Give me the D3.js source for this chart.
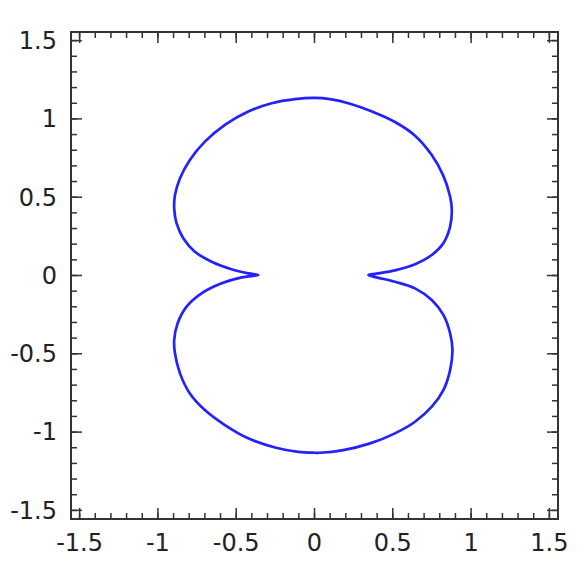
<!DOCTYPE html>
<html>
<head>
<meta charset="utf-8">
<script src="https://cdn.jsdelivr.net/npm/d3@7"></script>
<style>
  body { margin: 0; background: #fff; }
  .tick-label { font-family: 'DejaVu Sans', sans-serif; font-size: 24px; fill: #222; }
</style>
</head>
<body>
<div id="chart"></div>
<script>
// Curve points, going clockwise from the top
const curveX = [
  0, 0.099, 0.227, 0.355, 0.514, 0.642, 0.749, 0.823, 0.866, 0.877, 0.866, 0.823, 0.749, 0.642, 0.514, 0.397, 0.344,
  0.397, 0.514, 0.642, 0.749, 0.823, 0.866, 0.881, 0.866, 0.823, 0.749, 0.642, 0.514, 0.355, 0.184, 0.035, 0,
  -0.104, -0.252, -0.423, -0.572, -0.700, -0.796, -0.859, -0.891, -0.896, -0.874, -0.817, -0.721, -0.593, -0.465, -0.359,
  -0.423, -0.530, -0.657, -0.764, -0.838, -0.881, -0.896, -0.891, -0.859, -0.796, -0.700, -0.572, -0.423, -0.273, -0.125
];
const curveY = [
  1.134, 1.126, 1.097, 1.052, 0.980, 0.893, 0.769, 0.636, 0.504, 0.419, 0.312, 0.206, 0.131, 0.072, 0.033, 0.012, 0.003,
  -0.012, -0.040, -0.082, -0.157, -0.252, -0.369, -0.476, -0.604, -0.732, -0.838, -0.934, -1.008, -1.072, -1.115, -1.132, -1.132,
  -1.126, -1.098, -1.040, -0.955, -0.859, -0.753, -0.625, -0.497, -0.412, -0.305, -0.199, -0.114, -0.050, -0.012, 0.003,
  0.014, 0.040, 0.088, 0.152, 0.238, 0.334, 0.429, 0.514, 0.621, 0.738, 0.855, 0.962, 1.047, 1.100, 1.126
];
const majorTicks = [-1.5, -1, -0.5, 0, 0.5, 1, 1.5];
const tickLabels = ['-1.5', '-1', '-0.5', '0', '0.5', '1', '1.5'];
const minorTicks = d3.range(-15, 16).map((d) => d / 10);

const width = 588, height = 572;
const plotLeft = 71, plotRight = 558, plotTop = 32, plotBottom = 519;

const svg = d3.select('#chart').append('svg')
  .attr('width', width)
  .attr('height', height);

const x = d3.scaleLinear().domain([-1.555, 1.555]).range([plotLeft, plotRight]);
const y = d3.scaleLinear().domain([-1.555, 1.555]).range([plotBottom, plotTop]);

// minor and major ticks, pointing inward on all four sides
const tickColor = '#333';
function drawTicks(vals, len, w) {
  const g = svg.append('g').attr('stroke', tickColor).attr('stroke-width', w);
  vals.forEach((v) => {
    g.append('line').attr('x1', x(v)).attr('x2', x(v)).attr('y1', plotBottom).attr('y2', plotBottom - len);
    g.append('line').attr('x1', x(v)).attr('x2', x(v)).attr('y1', plotTop).attr('y2', plotTop + len);
    g.append('line').attr('y1', y(v)).attr('y2', y(v)).attr('x1', plotLeft).attr('x2', plotLeft + len);
    g.append('line').attr('y1', y(v)).attr('y2', y(v)).attr('x1', plotRight).attr('x2', plotRight - len);
  });
}
drawTicks(minorTicks, 6, 1.5);
drawTicks(majorTicks, 11, 1.5);

// frame
svg.append('rect')
  .attr('x', plotLeft).attr('y', plotTop)
  .attr('width', plotRight - plotLeft).attr('height', plotBottom - plotTop)
  .attr('fill', 'none')
  .attr('stroke', tickColor)
  .attr('stroke-width', 2);

// tick labels
svg.append('g').selectAll('text')
  .data(majorTicks)
  .join('text')
  .attr('class', 'tick-label')
  .attr('x', (d) => x(d))
  .attr('y', plotBottom + 32)
  .attr('text-anchor', 'middle')
  .text((d, i) => tickLabels[i]);

svg.append('g').selectAll('text')
  .data(majorTicks)
  .join('text')
  .attr('class', 'tick-label')
  .attr('x', plotLeft - 14)
  .attr('y', (d) => y(d))
  .attr('dy', '0.35em')
  .attr('text-anchor', 'end')
  .text((d, i) => tickLabels[i]);

// the curve
const pts = curveX.map((d, i) => [d, curveY[i]]);
svg.append('path')
  .datum(pts)
  .attr('fill', 'none')
  .attr('stroke', '#2222ff')
  .attr('stroke-width', 2.7)
  .attr('stroke-linejoin', 'round')
  .attr('d', d3.line()
    .x((d) => x(d[0]))
    .y((d) => y(d[1]))
    .curve(d3.curveCatmullRomClosed.alpha(0.5)));
</script>
</body>
</html>
